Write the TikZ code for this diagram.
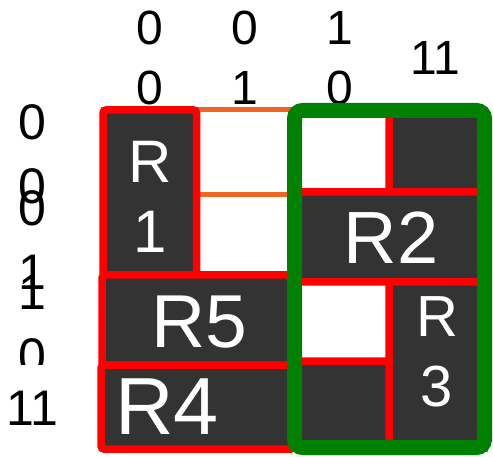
\documentclass[tikz,border=0pt]{standalone}
\usepackage{fontspec}
\setmainfont{Liberation Sans}
\definecolor{cellgray}{RGB}{51,51,51}
\definecolor{gridorange}{RGB}{238,102,34}
\definecolor{grpred}{RGB}{255,0,0}
\definecolor{grpgreen}{RGB}{0,128,0}
\begin{document}
\begin{tikzpicture}[x=1pt,y=-1pt,
  collbl/.style={font=\fontsize{48}{60}\selectfont, align=center, inner sep=0pt},
  rowlbl/.style={font=\fontsize{50}{64}\selectfont, align=center, inner sep=0pt},
  cell/.style={draw=gridorange, line width=5pt},
  oncell/.style={cell, fill=cellgray},
  grp/.style={draw=grpred, line width=7.5pt, rounded corners=3pt, fill=cellgray},
  biggrp/.style={draw=grpgreen, line width=15pt, rounded corners=8pt},
  txt/.style={text=white, align=center, inner sep=0pt}
]
\useasboundingbox (0,0) rectangle (493,457);
% column labels
\node[collbl] (c00) at (150,58) {0\\0};
\node[collbl] (c01) at (245,58) {0\\1};
\node[collbl] (c10) at (340,58) {1\\0};
\node[collbl] (c11) at (435,58) {11};
% row labels
\node[rowlbl] (r00) at (32,154) {0\\0};
\node[rowlbl] (r01) at (32,240) {0\\1};
\node[rowlbl] (r10) at (32,325) {1\\0};
\node[rowlbl, fill=white, minimum height=86pt] (r11) at (32,408) {11};
% grid cells
\path[cell] (103,110) rectangle (197,195);
\path[cell] (197,110) rectangle (294,195);
\path[cell] (294,110) rectangle (389,195);
\path[oncell] (389,110) rectangle (485,195);
\path[oncell] (103,195) rectangle (197,279);
\path[cell] (197,195) rectangle (294,279);
\path[oncell] (294,195) rectangle (389,279);
\path[oncell] (389,195) rectangle (485,279);
\path[oncell] (103,279) rectangle (197,364);
\path[oncell] (197,279) rectangle (294,364);
\path[cell] (294,279) rectangle (389,364);
\path[oncell] (389,279) rectangle (485,364);
\path[oncell] (103,364) rectangle (197,449);
\path[oncell] (197,364) rectangle (294,449);
\path[oncell] (294,364) rectangle (389,449);
\path[oncell] (389,364) rectangle (485,449);
% groups
\path[grp] (103,110) rectangle (196.5,275);
\path[grp] (102,275) rectangle (294,365);
\path[grp] (101,365) rectangle (294,449);
\path[grp] (389,112) rectangle (484,192);
\path[grp] (294,192) rectangle (484,282);
\path[grp] (389,282) rectangle (484,446);
\path[grp] (294,361) rectangle (389,446);
\path[biggrp] (294.5,110.5) rectangle (484.5,447.5);
% group labels
\node[txt, font=\fontsize{60}{70}\selectfont] (R1) at (150,197) {R\\1};
\node[txt, font=\fontsize{74}{80}\selectfont] (R2) at (391,238) {R2};
\node[txt, font=\fontsize{58}{70}\selectfont] (R3) at (437,352) {R\\3};
\node[txt, font=\fontsize{75}{80}\selectfont] (R5) at (199,322) {R5};
\node[txt, font=\fontsize{81}{90}\selectfont] (R4) at (167,407) {R4};
\end{tikzpicture}
\end{document}
